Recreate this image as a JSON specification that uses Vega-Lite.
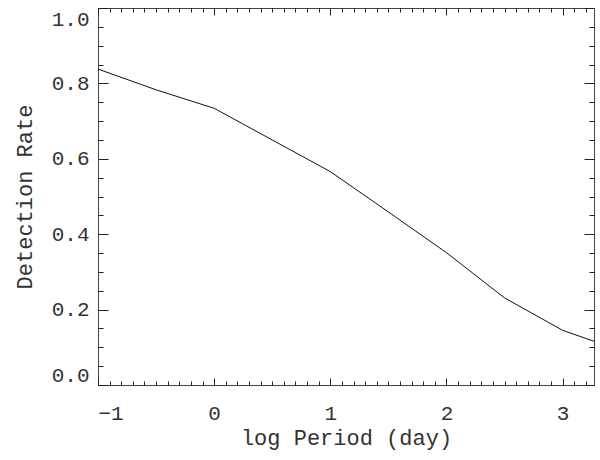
{
  "$schema": "https://vega.github.io/schema/vega-lite/v6.json",
  "width": 496,
  "height": 377,
  "autosize": {"type": "none"},
  "padding": {"left": 98, "top": 8, "right": 6, "bottom": 75},
  "background": "white",
  "config": {
    "view": {"stroke": "#444", "strokeWidth": 1},
    "axis": {
      "grid": false,
      "domain": false,
      "tickColor": "#222",
      "tickWidth": 1,
      "labelFont": "Liberation Mono",
      "titleFont": "Liberation Mono",
      "labelFontSize": 21,
      "titleFontSize": 22,
      "titleFontWeight": "normal",
      "labelColor": "#333",
      "titleColor": "#333"
    }
  },
  "data": {
    "values": [
      {"logP": -1.0, "rate": 0.838},
      {"logP": -0.5, "rate": 0.783},
      {"logP": 0.0, "rate": 0.734},
      {"logP": 0.5, "rate": 0.650},
      {"logP": 1.0, "rate": 0.566},
      {"logP": 1.5, "rate": 0.459},
      {"logP": 2.0, "rate": 0.351},
      {"logP": 2.5, "rate": 0.231},
      {"logP": 3.0, "rate": 0.145},
      {"logP": 3.27, "rate": 0.116}
    ]
  },
  "resolve": {"axis": {"x": "independent", "y": "independent"}},
  "layer": [
    {
      "mark": {"type": "line", "color": "#111", "strokeWidth": 1, "clip": true},
      "encoding": {
        "x": {
          "field": "logP", "type": "quantitative",
          "scale": {"domain": [-1, 3.27], "nice": false, "zero": false},
          "axis": {"orient": "bottom", "values": [-1, 0, 1, 2, 3], "format": "d", "tickSize": -7, "labelPadding": 24, "title": "log Period (day)", "titlePadding": 4}
        },
        "y": {
          "field": "rate", "type": "quantitative",
          "scale": {"domain": [0, 1], "nice": false, "zero": true},
          "axis": {"orient": "left", "values": [0, 0.2, 0.4, 0.6, 0.8, 1.0], "format": ".1f", "tickSize": -10, "labelPadding": 19, "labelFlush": true, "title": "Detection Rate", "titlePadding": 15}
        }
      }
    },
    {
      "mark": {"type": "line", "opacity": 0},
      "encoding": {
        "x": {
          "field": "logP", "type": "quantitative",
          "axis": {"orient": "bottom", "values": [-0.9, -0.8, -0.7, -0.6, -0.5, -0.4, -0.3, -0.2, -0.1, 0.1, 0.2, 0.3, 0.4, 0.5, 0.6, 0.7, 0.8, 0.9, 1.1, 1.2, 1.3, 1.4, 1.5, 1.6, 1.7, 1.8, 1.9, 2.1, 2.2, 2.3, 2.4, 2.5, 2.6, 2.7, 2.8, 2.9, 3.1, 3.2], "tickSize": -4, "labels": false, "title": null}
        },
        "y": {
          "field": "rate", "type": "quantitative",
          "axis": {"orient": "left", "values": [0.05, 0.1, 0.15, 0.25, 0.3, 0.35, 0.45, 0.5, 0.55, 0.65, 0.7, 0.75, 0.85, 0.9, 0.95], "tickSize": -5, "labels": false, "title": null}
        }
      }
    },
    {
      "mark": {"type": "line", "opacity": 0},
      "encoding": {
        "x": {
          "field": "logP", "type": "quantitative",
          "axis": {"orient": "top", "values": [-1, 0, 1, 2, 3], "tickSize": -7, "labels": false, "title": null}
        },
        "y": {
          "field": "rate", "type": "quantitative",
          "axis": {"orient": "right", "values": [0, 0.2, 0.4, 0.6, 0.8, 1.0], "tickSize": -10, "labels": false, "title": null}
        }
      }
    },
    {
      "mark": {"type": "line", "opacity": 0},
      "encoding": {
        "x": {
          "field": "logP", "type": "quantitative",
          "axis": {"orient": "top", "values": [-0.9, -0.8, -0.7, -0.6, -0.5, -0.4, -0.3, -0.2, -0.1, 0.1, 0.2, 0.3, 0.4, 0.5, 0.6, 0.7, 0.8, 0.9, 1.1, 1.2, 1.3, 1.4, 1.5, 1.6, 1.7, 1.8, 1.9, 2.1, 2.2, 2.3, 2.4, 2.5, 2.6, 2.7, 2.8, 2.9, 3.1, 3.2], "tickSize": -4, "labels": false, "title": null}
        },
        "y": {
          "field": "rate", "type": "quantitative",
          "axis": {"orient": "right", "values": [0.05, 0.1, 0.15, 0.25, 0.3, 0.35, 0.45, 0.5, 0.55, 0.65, 0.7, 0.75, 0.85, 0.9, 0.95], "tickSize": -5, "labels": false, "title": null}
        }
      }
    }
  ]
}
